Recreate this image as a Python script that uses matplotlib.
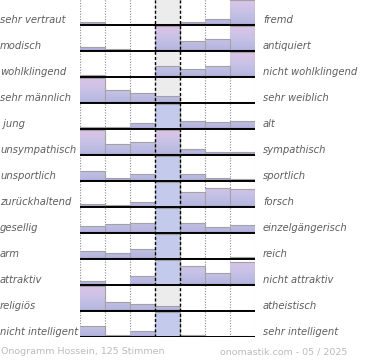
import matplotlib
matplotlib.use("Agg")
import matplotlib.pyplot as plt
import numpy as np
from matplotlib.colors import LinearSegmentedColormap
from matplotlib.patches import Rectangle

# Semantic-differential rows (left pole, right pole) and share per scale step
# (100 = full row height, values above 100 are cut off at the row top)
left_labels = ["sehr vertraut", "modisch", "wohlklingend", "sehr männlich", " jung",
               "unsympathisch", "unsportlich", "zurückhaltend", "gesellig", "arm",
               "attraktiv", "religiös", "nicht intelligent"]
right_labels = ["fremd", "antiquiert", "nicht wohlklingend", "sehr weiblich", "alt",
                "sympathisch", "sportlich", "forsch", "einzelgängerisch", "reich",
                "nicht attraktiv", "atheistisch", "sehr intelligent"]
values = [
    [12, 0, 6, 6, 14, 26, 100],
    [17, 8, 0, 100, 41, 47, 100],
    [10, 0, 0, 44, 32, 43, 100],
    [100, 51, 39, 28, 0, 0, 4],
    [9, 9, 25, 150, 33, 29, 33],
    [100, 43, 53, 100, 23, 11, 13],
    [40, 13, 28, 150, 27, 13, 8],
    [11, 7, 19, 150, 59, 75, 71],
    [28, 35, 41, 150, 41, 23, 33],
    [33, 23, 39, 150, 5, 0, 10],
    [16, 0, 37, 150, 78, 50, 94],
    [100, 35, 27, 21, 0, 0, 4],
    [44, 8, 24, 150, 8, 0, 4],
]
footer_left = "Onogramm Hossein, 125 Stimmen"
footer_right = "onomastik.com - 05 / 2025"

W, H = 370, 360
fig = plt.figure(figsize=(W / 100, H / 100), dpi=100)
ax = fig.add_axes([80 / W, 23 / H, 175 / W, 338 / H])
n_rows = len(values)
n_cols = len(values[0])

cmap = LinearSegmentedColormap.from_list(
    "bar", [(0.0, "#9c8fc8"), (0.07, "#b6b6df"), (0.5, "#c6c2e6"), (1.0, "#ddc4e7")])
grad = np.linspace(1, 0, 100).reshape(-1, 1)
over_color = "#c4caeb"

# middle column background
ax.axvspan(3, 4, color="#ececec", zorder=0, lw=0)

for i, row in enumerate(values):
    base = i + 1
    for j, v in enumerate(row):
        if v <= 0:
            continue
        h = min(v, 100) / 100 * 0.96
        top = base - h
        if v > 100:
            ax.add_patch(Rectangle((j, top), 1, h, color=over_color, lw=0, zorder=2))
        else:
            rect = Rectangle((j, top), 1, h, facecolor="none", lw=0)
            ax.add_patch(rect)
            im = ax.imshow(grad, cmap=cmap, vmin=0, vmax=1, aspect="auto",
                           extent=(j, j + 1, base, base - 0.96), zorder=2,
                           interpolation="bilinear")
            im.set_clip_path(rect)
        # gray edge on top and right side
        ax.plot([j, j + 1, j + 1], [top, top, base], color="#a2a2a2", lw=0.8,
                zorder=3, solid_joinstyle="miter")
    ax.plot([0, n_cols], [base, base], color="black", lw=1.4, zorder=5)

    ax.text(-80 / 175, base - 0.2, left_labels[i], transform=ax.get_yaxis_transform(),
            ha="left", va="center", fontsize=7.2, style="italic", color="#5e5e5e")
    ax.text(1 + 8 / 175, base - 0.2, right_labels[i], transform=ax.get_yaxis_transform(),
            ha="left", va="center", fontsize=7.2, style="italic", color="#5e5e5e")

for x in [0, 1, 2, 5, 6, 7]:
    ax.axvline(x, color="#8a8a8a", lw=0.8, ls=(0, (1, 1.4)), zorder=1)
for x in [3, 4]:
    ax.axvline(x, color="black", lw=1.0, ls=(0, (2.2, 1.5)), zorder=4)

ax.set_xlim(0, n_cols)
ax.set_ylim(n_rows, 0)
ax.axis("off")

fig.text(1 / W, 1 - 352 / H, footer_left, ha="left", va="center", fontsize=6.8,
         color="#bbbbbb")
fig.text(347 / W, 1 - 352 / H, footer_right, ha="right", va="center", fontsize=6.8,
         color="#bbbbbb")

fig.savefig("out.png", dpi=100)
